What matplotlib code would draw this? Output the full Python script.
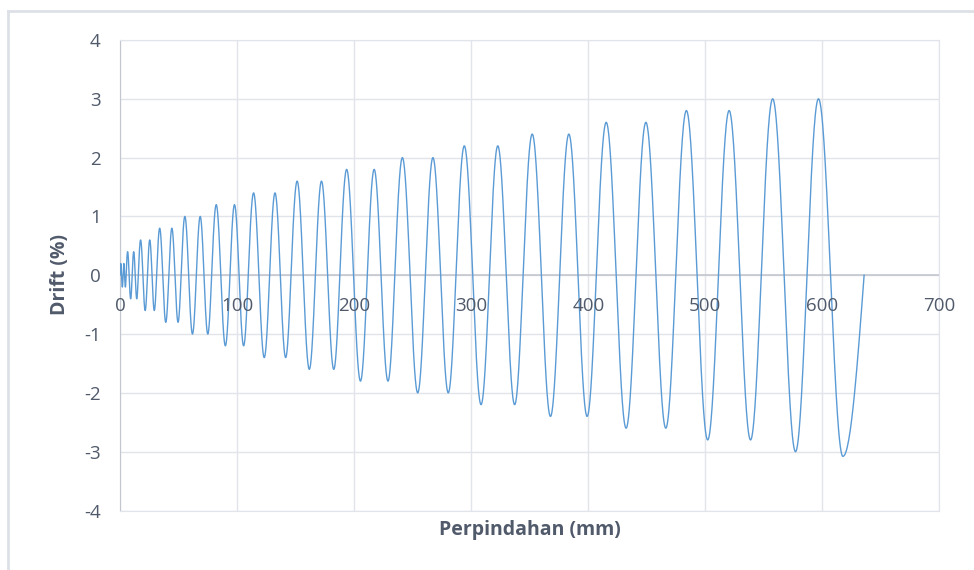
import numpy as np
import matplotlib
matplotlib.use("Agg")
import matplotlib.pyplot as plt
from matplotlib.lines import Line2D

# ---- data ----
drift_levels = [0.2, 0.4, 0.6, 0.8, 1.0, 1.2, 1.4, 1.6, 1.8, 2.0, 2.2, 2.4, 2.6, 2.8, 3.0]

# x positions (mm) of the successive peaks / troughs (2 cycles per level)
extrema_x = [
    0.7, 2.0, 3.3, 4.6,
    6.5, 9.1, 11.7, 14.3,
    17.6, 21.5, 25.4, 29.3,
    33.9, 39.1, 44.3, 49.6,
    55.4, 61.9, 68.5, 75.0,
    82.2, 90.0, 97.8, 105.6,
    114.1, 123.2, 132.4, 141.5,
    151.3, 161.7, 172.1, 182.6,
    193.6, 205.4, 217.1, 228.9,
    241.2, 254.3, 267.3, 280.4,
    294.1, 308.4, 322.7, 337.1,
    352.1, 367.7, 383.4, 399.0,
    415.3, 432.3, 449.2, 466.2,
    483.8, 502.0, 520.3, 538.6,
    557.5, 577.0, 596.6, 617.5,
]
# peak / trough drift values (%)
extrema_y = [
    0.2, -0.2, 0.2, -0.2,
    0.4, -0.4, 0.4, -0.4,
    0.6, -0.6, 0.6, -0.6,
    0.8, -0.8, 0.8, -0.8,
    1.0, -1.0, 1.0, -1.0,
    1.2, -1.2, 1.2, -1.2,
    1.4, -1.4, 1.4, -1.4,
    1.6, -1.6, 1.6, -1.6,
    1.8, -1.8, 1.8, -1.8,
    2.0, -2.0, 2.0, -2.0,
    2.2, -2.2, 2.2, -2.2,
    2.4, -2.4, 2.4, -2.4,
    2.6, -2.6, 2.6, -2.6,
    2.8, -2.8, 2.8, -2.8,
    3.0, -3.0, 3.0, -3.08,
]
start_x = 0.0
end_x = 635.6

x_ticks = [0, 100, 200, 300, 400, 500, 600, 700]
y_ticks = [-4, -3, -2, -1, 0, 1, 2, 3, 4]

# ---- build the smooth (sinusoidal) path through the read extrema ----
nodes_x = [start_x]
nodes_y = [0.0]
for i in range(len(extrema_x)):
    if i > 0:
        x0, y0 = extrema_x[i - 1], extrema_y[i - 1]
        x1, y1 = extrema_x[i], extrema_y[i]
        xz = x0 + (x1 - x0) * abs(y0) / (abs(y0) + abs(y1))
        nodes_x.append(xz)
        nodes_y.append(0.0)
    nodes_x.append(extrema_x[i])
    nodes_y.append(extrema_y[i])
nodes_x.append(end_x)
nodes_y.append(0.0)

xs, ys = [], []
for j in range(len(nodes_x) - 1):
    xa, ya = nodes_x[j], nodes_y[j]
    xb, yb = nodes_x[j + 1], nodes_y[j + 1]
    t = np.linspace(0, 1, 30)
    if ya == 0:
        seg = yb * np.sin(np.pi / 2 * t)
    else:
        seg = ya * np.cos(np.pi / 2 * t)
    xs.extend(xa + (xb - xa) * t)
    ys.extend(seg)

# ---- figure ----
plt.rcParams['font.family'] = ['Open Sans', 'DejaVu Sans']
plt.rcParams['axes.unicode_minus'] = False
text_c = '#505a6b'
grid_c = '#e1e4ea'

fig = plt.figure(figsize=(9.74, 5.70), dpi=100)
W, H = 974, 570
ax = fig.add_axes([120 / W, 1 - 510.5 / H, (939.5 - 120) / W, (510.5 - 40) / H])

ax.plot(xs, ys, color='#5B9BD5', lw=1.0, zorder=3)

ax.set_xlim(0, 700)
ax.set_ylim(-4, 4)
ax.set_xticks(x_ticks)
ax.set_yticks(y_ticks)
ax.grid(True, color=grid_c, lw=1.0, zorder=0)
ax.axhline(0, color='#c3c7cf', lw=1.2, zorder=2)
for s in ['top', 'right', 'bottom']:
    ax.spines[s].set_color(grid_c)
ax.spines['left'].set_color('#c3c7cf')
ax.tick_params(axis='both', length=0, labelsize=13.5, labelcolor=text_c)
ax.tick_params(axis='y', pad=14)
ax.set_xticklabels([])

# x tick labels sit just below the zero axis line
for xv in x_ticks:
    ax.text(xv, -0.52, str(xv), ha='center', va='center', fontsize=13.5, color=text_c)

fig.text(530 / W, 1 - 530 / H, 'Perpindahan (mm)', ha='center', va='center',
         fontsize=14, fontweight='bold', color=text_c)
fig.text(60 / W, 1 - 275 / H, 'Drift (%)', ha='center', va='center', rotation=90,
         fontsize=14, fontweight='bold', color=text_c)

# chart border (left and top visible)
fig.add_artist(Line2D([8 / W, 8 / W], [0, 1 - 11 / H], transform=fig.transFigure,
                      color='#dde0e6', lw=2))
fig.add_artist(Line2D([8 / W, 1], [1 - 11 / H, 1 - 11 / H], transform=fig.transFigure,
                      color='#dde0e6', lw=2))

fig.savefig('out.png', dpi=100)
